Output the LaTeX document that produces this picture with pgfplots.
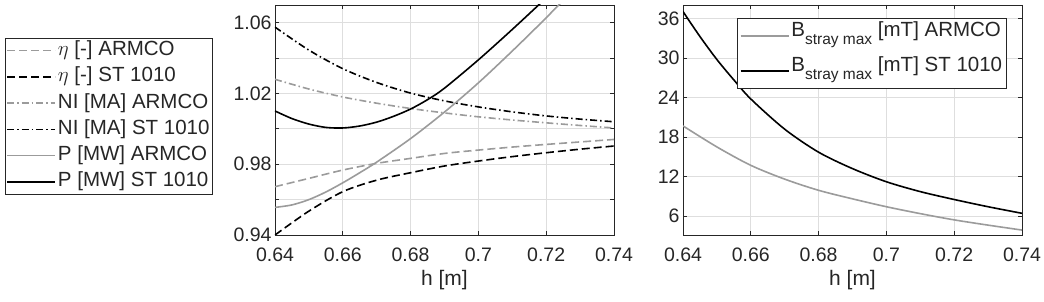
\documentclass[border=0pt]{standalone}
\usepackage{fontspec}
\setmainfont{Liberation Sans}
\usepackage{pgfplots}
\pgfplotsset{compat=1.18}
\definecolor{axc}{RGB}{38,38,38}
\definecolor{lg}{RGB}{155,155,155}
\definecolor{gridc}{RGB}{222,222,222}
\newcommand{\Bs}{B\raisebox{-8pt}{\fontsize{15.5}{16}\selectfont stray max}\ }
\pgfplotsset{
  myax/.style={
    scale only axis, width=339pt, height=230pt,
    xmin=0.64, xmax=0.74,
    xtick={0.64,0.66,0.68,0.70,0.72,0.74},
    xticklabels={0.64,0.66,0.68,0.7,0.72,0.74},
    grid=major, major grid style={gridc, line width=0.8pt},
    axis line style={axc, line width=0.8pt},
    tick style={axc, line width=0.8pt}, tick align=inside, major tick length=4pt,
    ticklabel style={font=\fontsize{19.5}{22}\selectfont, text=axc},
    xticklabel style={yshift=-9pt},
    /pgf/number format/assume math mode=true,
    label style={font=\fontsize{21}{24}\selectfont, text=axc},
    xlabel={h [m]},
    xlabel style={yshift=-2pt},
    every axis plot/.append style={line width=1.6pt, no marks, smooth},
    legend cell align=left,
    legend image code/.code={\draw[##1] (0pt,0pt) -- (48pt,0pt);},
  }
}
\begin{document}
\begin{tikzpicture}
\useasboundingbox (0,0) rectangle (1044pt,302pt);
\begin{axis}[myax, at={(275pt,67pt)}, anchor=south west,
  ymin=0.94, ymax=1.07,
  ytick={0.94,0.96,0.98,1.00,1.02,1.04,1.06},
  yticklabels={0.94,,0.98,,1.02,,1.06},
  legend style={at={(axis description cs:-0.7965,0.8565)}, anchor=north west,
    draw=axc, line width=0.8pt, fill=white, inner sep=1pt, row sep=4.3pt,
    font=\fontsize{20.5}{23}\selectfont, text=axc,
    nodes={text height=14pt, text depth=4pt, inner sep=2pt}},
]
\addplot[lg, dash pattern=on 8pt off 4pt] coordinates {
(0.64,0.9673)(0.65,0.9720)(0.66,0.9767)(0.67,0.9805)(0.68,0.9833)(0.69,0.9861)
(0.70,0.9880)(0.71,0.9897)(0.72,0.9912)(0.73,0.9926)(0.74,0.9940)};
\addlegendentry{$\eta$ [-] ARMCO}
\addplot[black, dash pattern=on 8pt off 4pt] coordinates {
(0.64,0.9400)(0.65,0.9535)(0.66,0.9645)(0.67,0.9710)(0.68,0.9752)(0.69,0.9790)
(0.70,0.9818)(0.71,0.9843)(0.72,0.9865)(0.73,0.9885)(0.74,0.9903)};
\addlegendentry{$\eta$ [-] ST 1010}
\addplot[lg, dash pattern=on 7pt off 3pt on 1.5pt off 3pt] coordinates {
(0.64,1.0280)(0.65,1.0225)(0.66,1.0180)(0.67,1.0145)(0.68,1.0115)(0.69,1.0090)
(0.70,1.0068)(0.71,1.0050)(0.72,1.0034)(0.73,1.0019)(0.74,1.0005)};
\addlegendentry{NI [MA] ARMCO}
\addplot[black, dash pattern=on 7pt off 3pt on 1.5pt off 3pt] coordinates {
(0.64,1.0575)(0.65,1.0445)(0.66,1.0340)(0.67,1.0262)(0.68,1.0202)(0.69,1.0158)
(0.70,1.0124)(0.71,1.0096)(0.72,1.0073)(0.73,1.0055)(0.74,1.0040)};
\addlegendentry{NI [MA] ST 1010}
\addplot[lg] coordinates {
(0.64,0.9556)(0.645,0.9570)(0.65,0.9600)(0.655,0.9643)(0.66,0.9695)(0.665,0.9752)
(0.67,0.9812)(0.68,0.9945)(0.69,1.0095)(0.70,1.0260)(0.71,1.0440)(0.72,1.0628)(0.73,1.0825)};
\addlegendentry{P [MW] ARMCO}
\addplot[black] coordinates {
(0.64,1.0101)(0.645,1.0058)(0.65,1.0027)(0.655,1.0008)(0.66,1.0005)(0.665,1.0016)
(0.67,1.0038)(0.675,1.0071)(0.68,1.0112)(0.685,1.0165)(0.69,1.0230)(0.70,1.0390)
(0.71,1.0562)(0.72,1.0740)};
\addlegendentry{P [MW] ST 1010}
\end{axis}
\begin{axis}[myax, at={(683pt,67pt)}, anchor=south west,
  ymin=3.1, ymax=38.1,
  ytick={6,12,18,24,30,36},
  legend style={at={(axis description cs:0.159,0.9435)}, anchor=north west,
    draw=axc, line width=0.8pt, fill=white, inner sep=2.5pt, row sep=5pt,
    font=\fontsize{20.5}{23}\selectfont, text=axc,
    nodes={text height=14pt, text depth=12pt, inner sep=2pt}},
]
\addplot[lg] coordinates {
(0.64,19.7)(0.65,16.5)(0.66,13.7)(0.67,11.6)(0.68,9.9)(0.69,8.6)(0.70,7.4)
(0.71,6.35)(0.72,5.4)(0.73,4.6)(0.74,3.85)};
\addlegendentry{\Bs[mT] ARMCO}
\addplot[black] coordinates {
(0.64,37.1)(0.645,33.3)(0.65,29.8)(0.655,26.7)(0.66,23.8)(0.67,19.2)(0.68,15.7)
(0.69,13.2)(0.70,11.2)(0.71,9.7)(0.72,8.5)(0.73,7.4)(0.74,6.4)};
\addlegendentry{\Bs[mT] ST 1010}
\end{axis}
\end{tikzpicture}
\end{document}
